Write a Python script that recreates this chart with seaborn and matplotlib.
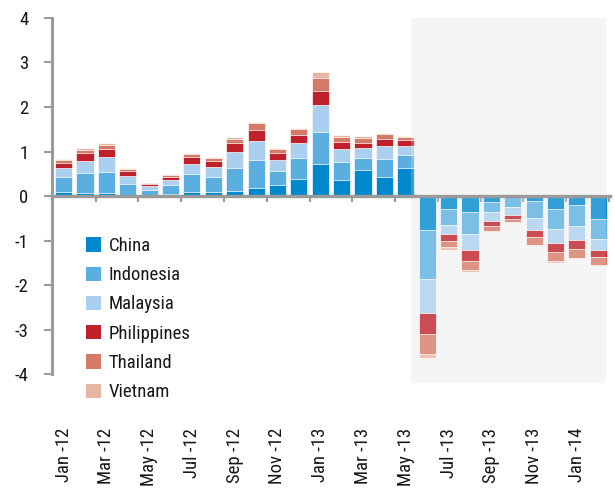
import numpy as np
import pandas as pd
import matplotlib
matplotlib.use("Agg")
import matplotlib.pyplot as plt
from matplotlib import font_manager
from matplotlib.patches import Patch
from matplotlib.ticker import FixedLocator
import seaborn as sns

# ── data (contribution by country, pct pts) ─────────────────
months = ["Jan -12", "Feb -12", "Mar -12", "Apr -12", "May -12", "Jun -12",
          "Jul -12", "Aug -12", "Sep -12", "Oct -12", "Nov -12", "Dec -12",
          "Jan -13", "Feb -13", "Mar -13", "Apr -13", "May -13", "Jun -13",
          "Jul -13", "Aug -13", "Sep -13", "Oct -13", "Nov -13", "Dec -13",
          "Jan -14", "Feb -14"]

china       = [0.08, 0.07, 0.07, 0.02, 0.01, 0.04, 0.10, 0.10, 0.12, 0.18, 0.25, 0.39, 0.73,
               0.36, 0.59, 0.43, 0.64, -0.76, -0.30, -0.37, -0.13, -0.01, -0.11, -0.29, -0.20, -0.52]
indonesia   = [0.35, 0.45, 0.48, 0.26, 0.13, 0.21, 0.39, 0.33, 0.51, 0.64, 0.32, 0.47, 0.71,
               0.41, 0.27, 0.40, 0.28, -1.10, -0.34, -0.48, -0.24, -0.24, -0.38, -0.45, -0.47, -0.45]
malaysia    = [0.21, 0.27, 0.32, 0.18, 0.09, 0.12, 0.24, 0.23, 0.37, 0.42, 0.25, 0.32, 0.60,
               0.29, 0.23, 0.29, 0.20, -0.76, -0.22, -0.36, -0.19, -0.17, -0.27, -0.32, -0.32, -0.24]
philippines = [0.11, 0.18, 0.19, 0.10, 0.04, 0.06, 0.15, 0.13, 0.18, 0.25, 0.15, 0.20, 0.33,
               0.16, 0.11, 0.16, 0.13, -0.49, -0.15, -0.24, -0.11, -0.10, -0.16, -0.20, -0.19, -0.16]
thailand    = [0.06, 0.07, 0.08, 0.05, 0.03, 0.05, 0.06, 0.06, 0.11, 0.14, 0.09, 0.13, 0.29,
               0.11, 0.10, 0.12, 0.08, -0.45, -0.14, -0.21, -0.12, -0.06, -0.17, -0.20, -0.21, -0.17]
vietnam     = [0.02, 0.04, 0.05, 0.03, -0.05, 0.02, 0.03, 0.02, 0.03, 0.03, 0.02, 0.02, 0.13,
               0.03, 0.05, 0.01, 0.02, -0.09, -0.06, -0.04, -0.02, -0.02, -0.02, -0.05, 0.03, -0.03]

countries = ["China", "Indonesia", "Malaysia", "Philippines", "Thailand", "Vietnam"]
colors    = ["#0088ce", "#5baee0", "#abcfee", "#c0202a", "#d57a66", "#e8b4a3"]
series    = [china, indonesia, malaysia, philippines, thailand, vietnam]

shade_from = 16.25   # shaded period starts after May-13

# ── style ─────────────────────────────────────────────────────
sns.set_theme(style="white")
installed = {f.name for f in font_manager.fontManager.ttflist}
narrow = [n for n in ("Liberation Sans Narrow", "Roboto Condensed", "Open Sans Condensed",
                      "DejaVu Sans Condensed") if n in installed]
plt.rcParams["font.family"] = narrow + ["DejaVu Sans"]
plt.rcParams["font.stretch"] = "condensed"
plt.rcParams["axes.unicode_minus"] = False
GREY = "#9a9a9a"
INK = "#1a1718"
FS = 13.5

fig = plt.figure(figsize=(6.15, 4.99), dpi=100)
ax = fig.add_axes([0.0846, 0.2325, 0.9074, 0.7315])

vals = np.array(series)
pos = np.clip(vals, 0, None).cumsum(axis=0)
neg = np.clip(vals, None, 0).cumsum(axis=0)

# stacked bars: paint cumulative totals from the outermost layer inwards
for stack in (pos, neg):
    for k in range(len(countries) - 1, -1, -1):
        df = pd.DataFrame({"month": months, "value": stack[k]})
        sns.barplot(data=df, x="month", y="value", order=months, color=colors[k],
                    saturation=1, width=0.8, errorbar=None,
                    edgecolor="white", linewidth=0.5, ax=ax)

ax.axvspan(shade_from, 25.36, color="#f3f3f3", zorder=0, lw=0)
ax.axvspan(shade_from, 25.36, color="white", alpha=0.2, zorder=3, lw=0)

ax.set_xlim(-0.54, 25.55)
ax.set_ylim(-4.2, 4.0)
ax.set_xlabel("")
ax.set_ylabel("")

for s in ("top", "right"):
    ax.spines[s].set_visible(False)
ax.spines["left"].set_bounds(-4, 4)
ax.spines["left"].set_color(GREY)
ax.spines["left"].set_linewidth(2.2)
ax.spines["bottom"].set_position(("data", 0))
ax.spines["bottom"].set_color(GREY)
ax.spines["bottom"].set_linewidth(2.4)
ax.spines["bottom"].set_zorder(5)

ax.set_yticks(range(-4, 5))
ax.set_yticklabels([str(v) for v in range(-4, 5)])
ax.tick_params(axis="y", direction="out", length=6, width=1.5, color=GREY,
               pad=11, labelsize=FS, left=True, labelcolor=INK)

ax.xaxis.set_major_locator(FixedLocator(list(range(0, 26, 2))))
ax.set_xticklabels(months[::2], rotation=90, va="top", ha="center")
ax.xaxis.set_minor_locator(FixedLocator([i + 1.5 for i in range(0, 25, 2)]))
ax.tick_params(axis="x", which="major", length=0, pad=167, labelsize=FS, labelcolor=INK)
ax.tick_params(axis="x", which="minor", direction="out", length=4, width=1.6,
               color=GREY, bottom=True)

handles = [Patch(facecolor=c, edgecolor="none", label=n) for n, c in zip(countries, colors)]
ax.legend(handles=handles, loc="upper left", bbox_to_anchor=(0.061, 0.400),
          frameon=False, fontsize=FS, handlelength=0.8, handleheight=0.8,
          handletextpad=0.4, labelspacing=0.6, borderaxespad=0, borderpad=0,
          labelcolor=INK)

fig.savefig("out.png", dpi=100)
